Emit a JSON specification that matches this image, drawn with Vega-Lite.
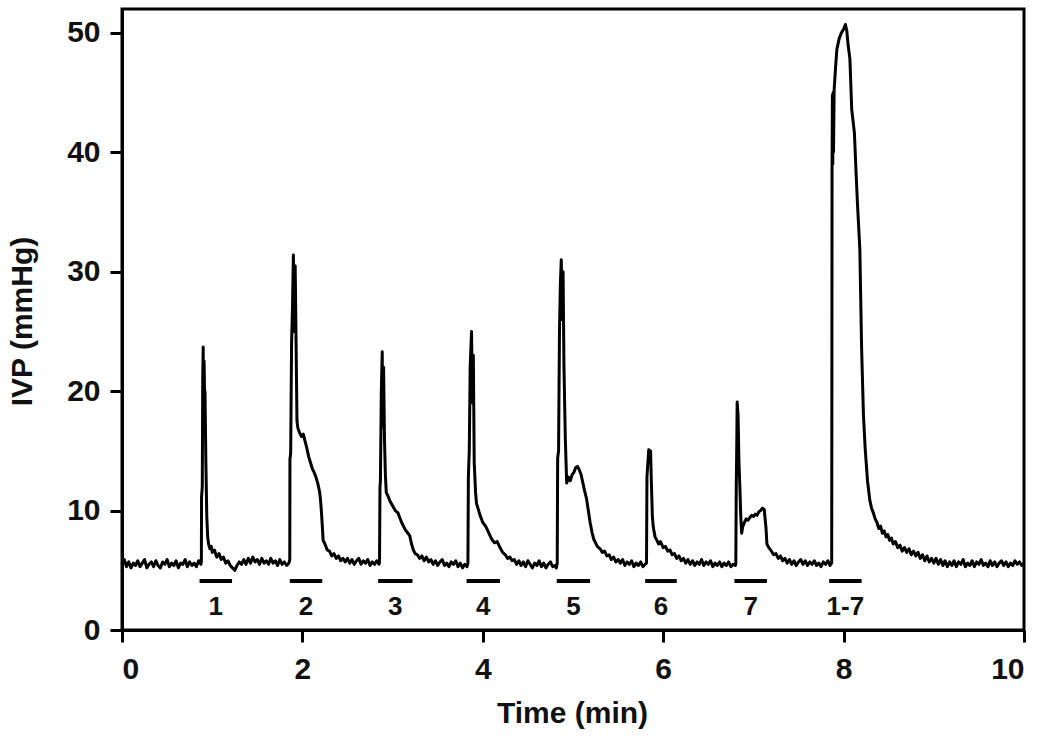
{
  "$schema": "https://vega.github.io/schema/vega-lite/v6.json",
  "autosize": {"type": "none"},
  "padding": {"left": 122, "top": 9, "right": 26, "bottom": 112},
  "width": 902,
  "height": 621,
  "background": "white",
  "config": {
    "view": {"stroke": "black", "strokeWidth": 3},
    "font": "Liberation Sans",
    "axis": {
      "domainColor": "black", "domainWidth": 3, "tickColor": "black", "tickWidth": 3, "tickSize": 12,
      "labelFont": "Liberation Sans", "labelFontSize": 30, "labelFontWeight": "bold", "labelColor": "#111",
      "titleFont": "Liberation Sans", "titleFontSize": 30, "titleFontWeight": "bold", "titleColor": "#111",
      "grid": false
    }
  },
  "datasets": {
    "trace": [
      {"t":0,"v":5.5},{"t":0.025,"v":5.9},{"t":0.05,"v":5.3},{"t":0.075,"v":5.7},{"t":0.1,"v":5.2},{"t":0.125,"v":5.6},{"t":0.15,"v":5.4},{"t":0.175,"v":5.8},{"t":0.2,"v":5.3},{"t":0.225,"v":5.6},{"t":0.25,"v":5.9},{"t":0.275,"v":5.2},{"t":0.3,"v":5.5},{"t":0.325,"v":5.7},{"t":0.35,"v":5.3},{"t":0.375,"v":5.8},{"t":0.4,"v":5.4},{"t":0.425,"v":5.2},{"t":0.45,"v":5.7},{"t":0.475,"v":5.5},{"t":0.5,"v":5.9},{"t":0.525,"v":5.3},{"t":0.55,"v":5.6},{"t":0.575,"v":5.4},{"t":0.6,"v":5.8},{"t":0.625,"v":5.2},{"t":0.65,"v":5.6},{"t":0.675,"v":5.5},{"t":0.7,"v":5.9},{"t":0.725,"v":5.3},{"t":0.75,"v":5.7},{"t":0.775,"v":5.4},{"t":0.8,"v":5.6},{"t":0.825,"v":5.3},{"t":0.85,"v":5.8},{"t":0.875,"v":5.5},
      {"t":0.88,"v":5.8},{"t":0.882,"v":11.1},{"t":0.89,"v":12},{"t":0.895,"v":21},{"t":0.9,"v":23.7},{"t":0.905,"v":17},{"t":0.91,"v":22.5},{"t":0.915,"v":19.9},{"t":0.92,"v":20},{"t":0.93,"v":14},{"t":0.94,"v":9.5},{"t":0.95,"v":7.8},{"t":0.96,"v":7.2},{"t":0.975,"v":6.8},{"t":0.99,"v":7.0},{"t":1.0,"v":6.5},{"t":1.025,"v":6.7},{"t":1.05,"v":6.1},{"t":1.075,"v":6.4},{"t":1.1,"v":5.9},{"t":1.125,"v":6.1},{"t":1.15,"v":5.6},{"t":1.175,"v":5.8},{"t":1.2,"v":5.4},{"t":1.225,"v":5.2},{"t":1.25,"v":5.0},{"t":1.275,"v":5.4},{"t":1.3,"v":5.7},{"t":1.325,"v":5.5},
      {"t":1.35,"v":5.9},{"t":1.375,"v":5.5},{"t":1.4,"v":6.0},{"t":1.425,"v":5.6},{"t":1.45,"v":6.1},{"t":1.475,"v":5.7},{"t":1.5,"v":5.9},{"t":1.525,"v":5.5},{"t":1.55,"v":6.0},{"t":1.575,"v":5.6},{"t":1.6,"v":5.8},{"t":1.625,"v":5.5},{"t":1.65,"v":6.0},{"t":1.675,"v":5.6},{"t":1.7,"v":5.8},{"t":1.725,"v":5.4},{"t":1.75,"v":5.9},{"t":1.775,"v":5.5},{"t":1.8,"v":5.7},{"t":1.825,"v":5.4},{"t":1.85,"v":5.6},
      {"t":1.86,"v":5.9},{"t":1.862,"v":14.3},{"t":1.87,"v":14.8},{"t":1.88,"v":24},{"t":1.89,"v":27},{"t":1.9,"v":31.4},{"t":1.91,"v":25},{"t":1.92,"v":30.5},{"t":1.93,"v":24},{"t":1.94,"v":17.5},{"t":1.95,"v":16.9},{"t":1.97,"v":16.5},{"t":1.99,"v":16.2},{"t":2.01,"v":16.4},{"t":2.03,"v":15.8},{"t":2.05,"v":15.2},{"t":2.07,"v":14.5},{"t":2.09,"v":14.0},{"t":2.11,"v":13.5},{"t":2.13,"v":13.2},{"t":2.15,"v":12.8},{"t":2.17,"v":12.3},{"t":2.19,"v":11.6},{"t":2.2,"v":11},{"t":2.21,"v":10},{"t":2.22,"v":8.8},{"t":2.23,"v":7.5},{"t":2.25,"v":7.2},{"t":2.275,"v":6.7},{"t":2.3,"v":6.6},{"t":2.325,"v":6.2},{"t":2.35,"v":6.4},{"t":2.375,"v":6.0},{"t":2.4,"v":6.2},{"t":2.425,"v":5.8},{"t":2.45,"v":6.0},
      {"t":2.475,"v":5.7},{"t":2.5,"v":6.0},{"t":2.525,"v":5.6},{"t":2.55,"v":5.9},{"t":2.575,"v":5.5},{"t":2.6,"v":5.8},{"t":2.625,"v":6.0},{"t":2.65,"v":5.5},{"t":2.675,"v":5.8},{"t":2.7,"v":5.6},{"t":2.725,"v":5.9},{"t":2.75,"v":5.4},{"t":2.775,"v":5.7},{"t":2.8,"v":5.5},{"t":2.825,"v":5.8},{"t":2.85,"v":5.5},
      {"t":2.855,"v":5.7},{"t":2.86,"v":11.9},{"t":2.865,"v":12.5},{"t":2.875,"v":20},{"t":2.885,"v":23.3},{"t":2.89,"v":17},{"t":2.9,"v":22},{"t":2.91,"v":16},{"t":2.92,"v":13},{"t":2.93,"v":11.5},{"t":2.95,"v":11.2},{"t":2.97,"v":10.8},{"t":3.0,"v":10.4},{"t":3.03,"v":10.0},{"t":3.06,"v":9.8},{"t":3.08,"v":9.4},{"t":3.1,"v":9.0},{"t":3.12,"v":8.7},{"t":3.14,"v":8.4},{"t":3.17,"v":8.1},{"t":3.19,"v":7.9},{"t":3.21,"v":7.2},{"t":3.23,"v":6.7},{"t":3.25,"v":6.4},{"t":3.275,"v":6.3},{"t":3.3,"v":6.0},{"t":3.325,"v":6.2},{"t":3.35,"v":5.8},{"t":3.375,"v":6.1},{"t":3.4,"v":5.7},
      {"t":3.425,"v":5.9},{"t":3.45,"v":5.5},{"t":3.475,"v":5.8},{"t":3.5,"v":5.4},{"t":3.525,"v":5.7},{"t":3.55,"v":5.9},{"t":3.575,"v":5.4},{"t":3.6,"v":5.6},{"t":3.625,"v":5.3},{"t":3.65,"v":5.7},{"t":3.675,"v":5.5},{"t":3.7,"v":5.8},{"t":3.725,"v":5.3},{"t":3.75,"v":5.6},{"t":3.775,"v":5.2},{"t":3.8,"v":5.5},{"t":3.825,"v":5.3},
      {"t":3.835,"v":5.6},{"t":3.84,"v":12.8},{"t":3.85,"v":15},{"t":3.86,"v":22},{"t":3.875,"v":25},{"t":3.885,"v":19},{"t":3.895,"v":23},{"t":3.905,"v":14},{"t":3.92,"v":11.5},{"t":3.93,"v":10.6},{"t":3.95,"v":10.1},{"t":3.97,"v":9.6},{"t":4.0,"v":9.0},{"t":4.03,"v":8.7},{"t":4.05,"v":8.4},{"t":4.08,"v":7.9},{"t":4.1,"v":7.6},{"t":4.13,"v":7.3},{"t":4.16,"v":7.4},{"t":4.19,"v":6.9},{"t":4.22,"v":6.5},{"t":4.25,"v":6.3},{"t":4.275,"v":6.0},{"t":4.3,"v":6.1},{"t":4.325,"v":5.8},{"t":4.35,"v":5.9},{"t":4.375,"v":5.5},
      {"t":4.4,"v":5.8},{"t":4.425,"v":5.4},{"t":4.45,"v":5.7},{"t":4.475,"v":5.3},{"t":4.5,"v":5.8},{"t":4.525,"v":5.5},{"t":4.55,"v":5.2},{"t":4.575,"v":5.6},{"t":4.6,"v":5.4},{"t":4.625,"v":5.8},{"t":4.65,"v":5.3},{"t":4.675,"v":5.6},{"t":4.7,"v":5.2},{"t":4.725,"v":5.5},{"t":4.75,"v":5.7},{"t":4.775,"v":5.3},{"t":4.8,"v":5.4},{"t":4.815,"v":5.2},
      {"t":4.825,"v":5.6},{"t":4.83,"v":14.4},{"t":4.84,"v":15},{"t":4.85,"v":25},{"t":4.86,"v":29},{"t":4.87,"v":31},{"t":4.88,"v":26},{"t":4.89,"v":30},{"t":4.9,"v":22},{"t":4.915,"v":16},{"t":4.93,"v":12.3},{"t":4.95,"v":12.8},{"t":4.97,"v":12.5},{"t":4.99,"v":13.0},{"t":5.01,"v":13.2},{"t":5.03,"v":13.6},{"t":5.05,"v":13.7},{"t":5.07,"v":13.4},{"t":5.09,"v":13.0},{"t":5.11,"v":12.3},{"t":5.13,"v":11.6},{"t":5.15,"v":11.0},{"t":5.17,"v":10.0},{"t":5.19,"v":9.0},{"t":5.21,"v":8.2},{"t":5.23,"v":7.6},{"t":5.25,"v":7.3},{"t":5.27,"v":7.0},{"t":5.3,"v":6.8},{"t":5.325,"v":6.5},{"t":5.35,"v":6.6},{"t":5.375,"v":6.2},{"t":5.4,"v":6.3},{"t":5.425,"v":5.9},{"t":5.45,"v":6.1},{"t":5.475,"v":5.7},{"t":5.5,"v":5.9},
      {"t":5.525,"v":5.6},{"t":5.55,"v":5.9},{"t":5.575,"v":5.4},{"t":5.6,"v":5.7},{"t":5.625,"v":5.5},{"t":5.65,"v":5.8},{"t":5.675,"v":5.3},{"t":5.7,"v":5.6},{"t":5.725,"v":5.4},{"t":5.75,"v":5.7},{"t":5.775,"v":5.3},{"t":5.8,"v":5.5},
      {"t":5.815,"v":5.6},{"t":5.82,"v":12.8},{"t":5.83,"v":14},{"t":5.84,"v":15.1},{"t":5.85,"v":14.5},{"t":5.86,"v":15},{"t":5.87,"v":12},{"t":5.88,"v":9.5},{"t":5.89,"v":8.6},{"t":5.91,"v":7.8},{"t":5.93,"v":7.5},{"t":5.95,"v":7.2},{"t":5.97,"v":7.4},{"t":6.0,"v":6.9},{"t":6.025,"v":7.0},{"t":6.05,"v":6.6},{"t":6.075,"v":6.7},{"t":6.1,"v":6.3},{"t":6.125,"v":6.4},{"t":6.15,"v":6.0},{"t":6.175,"v":6.2},{"t":6.2,"v":5.8},
      {"t":6.225,"v":6.0},{"t":6.25,"v":5.6},{"t":6.275,"v":5.9},{"t":6.3,"v":5.5},{"t":6.325,"v":5.8},{"t":6.35,"v":5.4},{"t":6.375,"v":5.7},{"t":6.4,"v":5.5},{"t":6.425,"v":5.9},{"t":6.45,"v":5.4},{"t":6.475,"v":5.7},{"t":6.5,"v":5.5},{"t":6.525,"v":5.8},{"t":6.55,"v":5.3},{"t":6.575,"v":5.6},{"t":6.6,"v":5.4},{"t":6.625,"v":5.7},{"t":6.65,"v":5.3},{"t":6.675,"v":5.6},{"t":6.7,"v":5.4},{"t":6.725,"v":5.7},{"t":6.75,"v":5.3},{"t":6.775,"v":5.5},{"t":6.8,"v":5.4},
      {"t":6.805,"v":5.6},{"t":6.81,"v":12},{"t":6.815,"v":15},{"t":6.82,"v":19.1},{"t":6.83,"v":18},{"t":6.84,"v":14},{"t":6.85,"v":12},{"t":6.86,"v":9.5},{"t":6.87,"v":8.1},{"t":6.88,"v":8.6},{"t":6.9,"v":9.0},{"t":6.92,"v":9.3},{"t":6.94,"v":9.2},{"t":6.96,"v":9.4},{"t":6.98,"v":9.6},{"t":7.0,"v":9.5},{"t":7.02,"v":9.7},{"t":7.04,"v":9.6},{"t":7.06,"v":9.9},{"t":7.08,"v":10.0},{"t":7.1,"v":10.2},{"t":7.12,"v":10.1},{"t":7.14,"v":8.5},{"t":7.15,"v":7.2},{"t":7.17,"v":6.9},{"t":7.2,"v":6.6},{"t":7.225,"v":6.3},{"t":7.25,"v":6.4},{"t":7.275,"v":6.0},{"t":7.3,"v":6.2},{"t":7.325,"v":5.8},{"t":7.35,"v":6.0},
      {"t":7.375,"v":5.6},{"t":7.4,"v":5.9},{"t":7.425,"v":5.5},{"t":7.45,"v":5.8},{"t":7.475,"v":5.4},{"t":7.5,"v":5.7},{"t":7.525,"v":5.9},{"t":7.55,"v":5.5},{"t":7.575,"v":5.8},{"t":7.6,"v":5.4},{"t":7.625,"v":5.7},{"t":7.65,"v":5.5},{"t":7.675,"v":5.8},{"t":7.7,"v":5.4},{"t":7.725,"v":5.6},{"t":7.75,"v":5.3},{"t":7.775,"v":5.7},{"t":7.8,"v":5.5},{"t":7.825,"v":5.8},{"t":7.85,"v":5.4},{"t":7.865,"v":5.6},
      {"t":7.868,"v":5.6},{"t":7.87,"v":20},{"t":7.872,"v":38.8},{"t":7.876,"v":44.8},{"t":7.88,"v":39},{"t":7.884,"v":45},{"t":7.888,"v":40},{"t":7.895,"v":45.2},{"t":7.91,"v":47},{"t":7.925,"v":48.6},{"t":7.95,"v":49.5},{"t":7.975,"v":50},{"t":8.0,"v":50.3},{"t":8.02,"v":50.7},{"t":8.035,"v":50.2},{"t":8.05,"v":49},{"t":8.07,"v":47.8},{"t":8.09,"v":43.6},{"t":8.12,"v":41.6},{"t":8.14,"v":38},{"t":8.155,"v":35.5},{"t":8.18,"v":31.9},{"t":8.2,"v":23.5},{"t":8.22,"v":18},{"t":8.24,"v":15.1},{"t":8.265,"v":12.5},{"t":8.29,"v":10.9},{"t":8.31,"v":10.2},{"t":8.33,"v":9.8},{"t":8.35,"v":9.3},{"t":8.37,"v":9.0},{"t":8.39,"v":8.5},{"t":8.41,"v":8.7},{"t":8.43,"v":8.1},{"t":8.45,"v":8.3},{"t":8.47,"v":7.8},{"t":8.49,"v":8.0},{"t":8.51,"v":7.5},{"t":8.53,"v":7.7},{"t":8.55,"v":7.2},{"t":8.575,"v":7.4},{"t":8.6,"v":6.9},{"t":8.625,"v":7.1},{"t":8.65,"v":6.6},{"t":8.675,"v":6.9},{"t":8.7,"v":6.5},{"t":8.725,"v":6.8},{"t":8.75,"v":6.3},{"t":8.775,"v":6.6},{"t":8.8,"v":6.2},{"t":8.825,"v":6.5},{"t":8.85,"v":6.0},{"t":8.875,"v":6.3},{"t":8.9,"v":5.8},{"t":8.925,"v":6.2},{"t":8.95,"v":5.7},{"t":8.975,"v":6.0},
      {"t":9.0,"v":5.6},{"t":9.025,"v":6.0},{"t":9.05,"v":5.5},{"t":9.075,"v":5.9},{"t":9.1,"v":5.4},{"t":9.125,"v":5.8},{"t":9.15,"v":5.3},{"t":9.175,"v":5.7},{"t":9.2,"v":5.4},{"t":9.225,"v":5.8},{"t":9.25,"v":5.3},{"t":9.275,"v":5.7},{"t":9.3,"v":5.5},{"t":9.325,"v":5.9},{"t":9.35,"v":5.3},{"t":9.375,"v":5.6},{"t":9.4,"v":5.4},{"t":9.425,"v":5.8},{"t":9.45,"v":5.3},{"t":9.475,"v":5.7},{"t":9.5,"v":5.5},{"t":9.525,"v":5.9},{"t":9.55,"v":5.4},{"t":9.575,"v":5.6},{"t":9.6,"v":5.3},{"t":9.625,"v":5.8},{"t":9.65,"v":5.4},{"t":9.675,"v":5.7},{"t":9.7,"v":5.3},{"t":9.725,"v":5.6},{"t":9.75,"v":5.8},{"t":9.775,"v":5.4},{"t":9.8,"v":5.7},{"t":9.825,"v":5.3},{"t":9.85,"v":5.6},{"t":9.875,"v":5.4},{"t":9.9,"v":5.8},{"t":9.925,"v":5.5},{"t":9.95,"v":5.7},{"t":9.975,"v":5.4},{"t":10,"v":5.6}
    ],
    "bars": [
      {"start":0.86,"end":1.22,"mid":1.04,"label":"1","y":4.1,"ly":1.25},
      {"start":1.86,"end":2.22,"mid":2.04,"label":"2","y":4.1,"ly":1.25},
      {"start":2.84,"end":3.22,"mid":3.03,"label":"3","y":4.1,"ly":1.25},
      {"start":3.82,"end":4.19,"mid":4.005,"label":"4","y":4.1,"ly":1.25},
      {"start":4.82,"end":5.19,"mid":5.005,"label":"5","y":4.1,"ly":1.25},
      {"start":5.8,"end":6.15,"mid":5.975,"label":"6","y":4.1,"ly":1.25},
      {"start":6.79,"end":7.15,"mid":6.97,"label":"7","y":4.1,"ly":1.25},
      {"start":7.84,"end":8.2,"mid":8.02,"label":"1-7","y":4.1,"ly":1.25}
    ]
  },
  "layer": [
    {
      "data": {"name": "trace"},
      "mark": {"type": "line", "color": "black", "strokeWidth": 3, "strokeJoin": "round"},
      "encoding": {
        "x": {"field": "t", "type": "quantitative", "scale": {"domain": [0, 10], "nice": false},
          "axis": {"values": [0, 2, 4, 6, 8, 10], "format": "d", "title": "Time (min)", "labelPadding": 12, "titleX": 450, "titleY": 83, "titleBaseline": "middle", "titleAnchor": null}},
        "y": {"field": "v", "type": "quantitative", "scale": {"domain": [0, 52], "nice": false},
          "axis": {"values": [0, 10, 20, 30, 40, 50], "format": "d", "title": "IVP (mmHg)", "labelPadding": 10, "titleX": -100, "titleY": 312, "titleAngle": -90, "titleBaseline": "middle", "titleAlign": "center"}}
      }
    },
    {
      "data": {"name": "bars"},
      "mark": {"type": "rule", "color": "black", "strokeWidth": 4},
      "encoding": {
        "x": {"field": "start", "type": "quantitative"},
        "x2": {"field": "end"},
        "y": {"field": "y", "type": "quantitative"}
      }
    },
    {
      "data": {"name": "bars"},
      "mark": {"type": "text", "font": "Liberation Sans", "fontSize": 26, "fontWeight": "bold", "color": "#111", "baseline": "alphabetic", "align": "center"},
      "encoding": {
        "x": {"field": "mid", "type": "quantitative"},
        "y": {"field": "ly", "type": "quantitative"},
        "text": {"field": "label"}
      }
    }
  ]
}
